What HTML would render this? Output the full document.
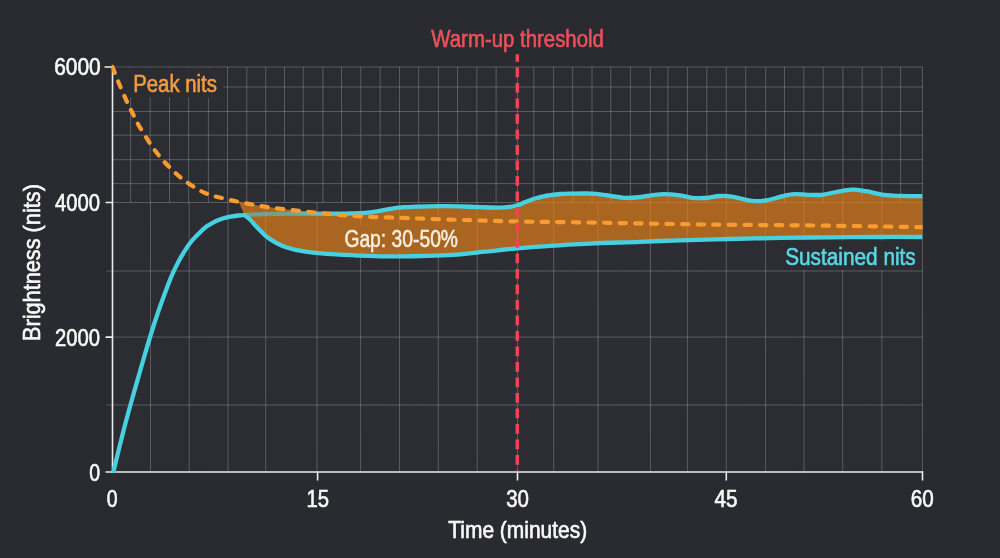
<!DOCTYPE html>
<html lang="en">
<head>
<meta charset="utf-8">
<title>Brightness over time</title>
<style>
html,body{margin:0;padding:0;background:#2a2b30;}
body{width:1000px;height:558px;overflow:hidden;}
svg{display:block;}
text{font-family:"Liberation Sans",sans-serif;}
</style>
</head>
<body>
<svg width="1000" height="558" viewBox="0 0 1000 558">
<defs>
<radialGradient id="bg" cx="50%" cy="50%" r="75%">
<stop offset="0" stop-color="#2b2c32"/>
<stop offset="1" stop-color="#292a2f"/>
</radialGradient>
<linearGradient id="upg" gradientUnits="userSpaceOnUse" x1="285" y1="0" x2="330" y2="0">
<stop offset="0" stop-color="#46d0e0" stop-opacity="0.55"/>
<stop offset="1" stop-color="#46d0e0" stop-opacity="1"/>
</linearGradient>
<clipPath id="gclip"><path clip-rule="evenodd" d="M0,0H1000V558H0Z M113.4,67.8h110v29.6h-110Z M779,240.5h142.5v29.6h-142.5Z M341,225h121v27h-121Z"/></clipPath>
<clipPath id="pclip"><rect x="111.6" y="40" width="811" height="432.7"/></clipPath>
</defs>
<rect x="0" y="0" width="1000" height="558" fill="url(#bg)"/>
<rect x="112.5" y="67" width="810" height="405" fill="#ffffff" fill-opacity="0.012"/>
<g stroke="rgba(255,255,255,0.22)" stroke-width="1" fill="none" clip-path="url(#gclip)">
<line x1="130.6" y1="67" x2="130.6" y2="202.5"/>
<line x1="150.2" y1="67" x2="150.2" y2="202.5"/>
<line x1="169.5" y1="67" x2="169.5" y2="202.5"/>
<line x1="188.6" y1="67" x2="188.6" y2="202.5"/>
<line x1="208.4" y1="67" x2="208.4" y2="202.5"/>
<line x1="227.5" y1="67" x2="227.5" y2="202.5"/>
<line x1="246.8" y1="67" x2="246.8" y2="202.5"/>
<line x1="265.7" y1="67" x2="265.7" y2="202.5"/>
<line x1="284.5" y1="67" x2="284.5" y2="202.5"/>
<line x1="303.3" y1="67" x2="303.3" y2="202.5"/>
<line x1="322.9" y1="67" x2="322.9" y2="202.5"/>
<line x1="341.5" y1="67" x2="341.5" y2="202.5"/>
<line x1="360.8" y1="67" x2="360.8" y2="202.5"/>
<line x1="380.2" y1="67" x2="380.2" y2="202.5"/>
<line x1="399.5" y1="67" x2="399.5" y2="202.5"/>
<line x1="418.6" y1="67" x2="418.6" y2="202.5"/>
<line x1="438.4" y1="67" x2="438.4" y2="202.5"/>
<line x1="457.5" y1="67" x2="457.5" y2="202.5"/>
<line x1="476.8" y1="67" x2="476.8" y2="202.5"/>
<line x1="496.1" y1="67" x2="496.1" y2="202.5"/>
<line x1="517.5" y1="67" x2="517.5" y2="202.5"/>
<line x1="533.8" y1="67" x2="533.8" y2="202.5"/>
<line x1="553.6" y1="67" x2="553.6" y2="202.5"/>
<line x1="572.7" y1="67" x2="572.7" y2="202.5"/>
<line x1="592.0" y1="67" x2="592.0" y2="202.5"/>
<line x1="610.8" y1="67" x2="610.8" y2="202.5"/>
<line x1="630.4" y1="67" x2="630.4" y2="202.5"/>
<line x1="650.3" y1="67" x2="650.3" y2="202.5"/>
<line x1="667.9" y1="67" x2="667.9" y2="202.5"/>
<line x1="687.4" y1="67" x2="687.4" y2="202.5"/>
<line x1="706.8" y1="67" x2="706.8" y2="202.5"/>
<line x1="726.3" y1="67" x2="726.3" y2="202.5"/>
<line x1="745.7" y1="67" x2="745.7" y2="202.5"/>
<line x1="765.7" y1="67" x2="765.7" y2="202.5"/>
<line x1="784.5" y1="67" x2="784.5" y2="202.5"/>
<line x1="803.8" y1="67" x2="803.8" y2="202.5"/>
<line x1="823.2" y1="67" x2="823.2" y2="202.5"/>
<line x1="842.9" y1="67" x2="842.9" y2="202.5"/>
<line x1="862.2" y1="67" x2="862.2" y2="202.5"/>
<line x1="881.8" y1="67" x2="881.8" y2="202.5"/>
<line x1="900.6" y1="67" x2="900.6" y2="202.5"/>
<line x1="922.5" y1="67" x2="922.5" y2="202.5"/>
<line x1="150.5" y1="202.5" x2="150.5" y2="472"/>
<line x1="189.2" y1="202.5" x2="189.2" y2="472"/>
<line x1="228.0" y1="202.5" x2="228.0" y2="472"/>
<line x1="265.7" y1="202.5" x2="265.7" y2="472"/>
<line x1="317.0" y1="202.5" x2="317.0" y2="472"/>
<line x1="360.6" y1="202.5" x2="360.6" y2="472"/>
<line x1="399.5" y1="202.5" x2="399.5" y2="472"/>
<line x1="438.3" y1="202.5" x2="438.3" y2="472"/>
<line x1="477.2" y1="202.5" x2="477.2" y2="472"/>
<line x1="517.5" y1="202.5" x2="517.5" y2="472"/>
<line x1="553.7" y1="202.5" x2="553.7" y2="472"/>
<line x1="598.0" y1="202.5" x2="598.0" y2="472"/>
<line x1="650.4" y1="202.5" x2="650.4" y2="472"/>
<line x1="687.4" y1="202.5" x2="687.4" y2="472"/>
<line x1="726.3" y1="202.5" x2="726.3" y2="472"/>
<line x1="765.6" y1="202.5" x2="765.6" y2="472"/>
<line x1="804.0" y1="202.5" x2="804.0" y2="472"/>
<line x1="842.7" y1="202.5" x2="842.7" y2="472"/>
<line x1="881.8" y1="202.5" x2="881.8" y2="472"/>
<line x1="922.5" y1="202.5" x2="922.5" y2="472"/>
<line x1="112.5" y1="67" x2="922.5" y2="67"/>
<line x1="112.5" y1="87" x2="922.5" y2="87"/>
<line x1="112.5" y1="111.5" x2="922.5" y2="111.5"/>
<line x1="112.5" y1="135.2" x2="922.5" y2="135.2"/>
<line x1="112.5" y1="159.7" x2="922.5" y2="159.7"/>
<line x1="112.5" y1="183.6" x2="922.5" y2="183.6"/>
<line x1="112.5" y1="202.5" x2="922.5" y2="202.5"/>
<line x1="106.5" y1="271" x2="922.5" y2="271"/>
<line x1="112.5" y1="337.1" x2="922.5" y2="337.1"/>
<line x1="106.5" y1="405" x2="922.5" y2="405"/>
</g>
<!-- axes -->
<g stroke="#ececec" stroke-width="1.6" fill="none">
<path d="M112.5,66.2 V472 H922.5"/>
<path d="M104.5,67 H112.5 M105.5,202.5 H112.5 M105.5,337.1 H112.5 M105.5,472 H112.5"/>
<path d="M317.6,472 V480.4 M517.5,472 V480.4 M726.3,472 V480.4 M922.5,471.2 V480.4"/>
</g>
<g clip-path="url(#pclip)">
<!-- gap fill -->
<path d="M238.7,201.8 C243.0,202.6 254.8,205.1 264.5,206.6 C274.2,208.1 287.6,209.6 296.8,210.6 C306.1,211.6 313.5,212.3 320.0,212.8 C326.5,213.3 333.3,213.5 336.0,213.6 C337.3,213.6 340.0,213.8 344.0,213.7 C348.0,213.6 356.0,213.4 360.0,213.2 C364.0,213.0 364.7,213.0 368.0,212.6 C371.3,212.2 376.0,211.5 380.0,210.8 C384.0,210.1 388.0,209.2 392.0,208.6 C396.0,208.0 400.0,207.5 404.0,207.2 C408.0,206.9 410.0,206.9 416.0,206.7 C422.0,206.5 432.7,206.2 440.0,206.2 C447.3,206.1 453.3,206.2 460.0,206.4 C466.7,206.6 473.3,206.9 480.0,207.1 C486.7,207.3 495.0,207.6 500.0,207.6 C505.0,207.6 507.0,207.3 510.0,206.9 C513.0,206.5 515.7,205.7 518.0,205.0 C520.3,204.3 522.0,203.4 524.0,202.6 C526.0,201.8 528.0,201.0 530.0,200.3 C532.0,199.6 534.0,198.9 536.0,198.3 C538.0,197.7 540.0,197.2 542.0,196.7 C544.0,196.2 545.0,195.9 548.0,195.5 C551.0,195.1 556.0,194.3 560.0,194.0 C564.0,193.7 568.0,193.7 572.0,193.6 C576.0,193.5 580.0,193.5 584.0,193.5 C588.0,193.5 591.7,193.4 596.0,193.8 C600.3,194.2 605.3,195.1 610.0,195.8 C614.7,196.5 619.7,197.5 624.0,197.8 C628.3,198.1 631.7,197.9 636.0,197.5 C640.3,197.1 645.3,196.2 650.0,195.6 C654.7,195.0 659.0,194.2 664.0,194.2 C669.0,194.2 675.3,194.8 680.0,195.4 C684.7,196.0 688.0,197.4 692.0,197.8 C696.0,198.2 699.3,198.3 704.0,198.0 C708.7,197.7 715.3,196.2 720.0,196.0 C724.7,195.8 727.7,196.0 732.0,196.6 C736.3,197.2 742.0,199.0 746.0,199.8 C750.0,200.6 752.7,201.1 756.0,201.2 C759.3,201.3 762.7,200.9 766.0,200.4 C769.3,199.9 773.0,198.8 776.0,198.0 C779.0,197.2 781.0,196.4 784.0,195.8 C787.0,195.2 790.0,194.4 794.0,194.2 C798.0,194.0 803.3,194.7 808.0,194.8 C812.7,194.9 817.3,195.3 822.0,194.8 C826.7,194.3 831.0,192.9 836.0,192.0 C841.0,191.1 847.0,189.7 852.0,189.6 C857.0,189.5 860.7,190.3 866.0,191.2 C871.3,192.1 878.3,194.1 884.0,194.9 C889.7,195.7 893.6,195.7 900.0,195.9 C906.4,196.1 918.8,196.1 922.5,196.2 L922.5,237 C915.4,237.0 895.4,236.9 880.0,237.0 C864.6,237.1 846.5,237.2 830.0,237.3 C813.5,237.5 797.5,237.6 780.8,237.9 C764.1,238.2 746.7,238.6 730.0,239.0 C713.3,239.4 695.4,239.8 680.4,240.3 C665.4,240.8 655.1,241.2 640.0,241.8 C624.9,242.4 605.0,242.9 590.0,243.6 C575.0,244.3 562.2,245.0 550.0,245.8 C537.8,246.6 527.8,247.3 517.0,248.3 C506.2,249.3 495.7,250.6 485.0,251.7 C474.3,252.8 463.8,254.1 453.0,254.8 C442.2,255.5 430.5,255.7 420.0,256.0 C409.5,256.3 400.0,256.5 390.0,256.4 C380.0,256.3 367.5,255.8 360.0,255.6 C352.5,255.3 352.2,255.3 345.2,254.9 C338.1,254.5 325.8,254.0 317.7,253.2 C309.6,252.4 302.1,251.2 296.8,250.2 C291.5,249.2 289.2,248.3 286.0,247.2 C282.8,246.1 280.0,244.8 277.4,243.5 C274.8,242.2 272.6,240.8 270.5,239.4 C268.4,238.0 266.8,236.9 264.5,234.8 C262.2,232.7 258.9,229.3 256.5,226.8 C254.1,224.3 252.0,221.6 250.0,219.6 C248.0,217.6 245.4,215.8 244.5,215.1 Z" fill="#eb8417" fill-opacity="0.66"/>
<!-- sustained nits -->
<path d="M244.5,215.1 C247.8,214.9 255.8,214.3 264.5,214.1 C273.2,213.8 287.6,213.7 296.8,213.6 C306.1,213.5 312.1,213.6 320.0,213.6 C327.9,213.6 337.3,213.8 344.0,213.7 C350.7,213.6 356.0,213.4 360.0,213.2 C364.0,213.0 364.7,213.0 368.0,212.6 C371.3,212.2 376.0,211.5 380.0,210.8 C384.0,210.1 388.0,209.2 392.0,208.6 C396.0,208.0 400.0,207.5 404.0,207.2 C408.0,206.9 410.0,206.9 416.0,206.7 C422.0,206.5 432.7,206.2 440.0,206.2 C447.3,206.1 453.3,206.2 460.0,206.4 C466.7,206.6 473.3,206.9 480.0,207.1 C486.7,207.3 495.0,207.6 500.0,207.6 C505.0,207.6 507.0,207.3 510.0,206.9 C513.0,206.5 515.7,205.7 518.0,205.0 C520.3,204.3 522.0,203.4 524.0,202.6 C526.0,201.8 528.0,201.0 530.0,200.3 C532.0,199.6 534.0,198.9 536.0,198.3 C538.0,197.7 540.0,197.2 542.0,196.7 C544.0,196.2 545.0,195.9 548.0,195.5 C551.0,195.1 556.0,194.3 560.0,194.0 C564.0,193.7 568.0,193.7 572.0,193.6 C576.0,193.5 580.0,193.5 584.0,193.5 C588.0,193.5 591.7,193.4 596.0,193.8 C600.3,194.2 605.3,195.1 610.0,195.8 C614.7,196.5 619.7,197.5 624.0,197.8 C628.3,198.1 631.7,197.9 636.0,197.5 C640.3,197.1 645.3,196.2 650.0,195.6 C654.7,195.0 659.0,194.2 664.0,194.2 C669.0,194.2 675.3,194.8 680.0,195.4 C684.7,196.0 688.0,197.4 692.0,197.8 C696.0,198.2 699.3,198.3 704.0,198.0 C708.7,197.7 715.3,196.2 720.0,196.0 C724.7,195.8 727.7,196.0 732.0,196.6 C736.3,197.2 742.0,199.0 746.0,199.8 C750.0,200.6 752.7,201.1 756.0,201.2 C759.3,201.3 762.7,200.9 766.0,200.4 C769.3,199.9 773.0,198.8 776.0,198.0 C779.0,197.2 781.0,196.4 784.0,195.8 C787.0,195.2 790.0,194.4 794.0,194.2 C798.0,194.0 803.3,194.7 808.0,194.8 C812.7,194.9 817.3,195.3 822.0,194.8 C826.7,194.3 831.0,192.9 836.0,192.0 C841.0,191.1 847.0,189.7 852.0,189.6 C857.0,189.5 860.7,190.3 866.0,191.2 C871.3,192.1 878.3,194.1 884.0,194.9 C889.7,195.7 893.6,195.7 900.0,195.9 C906.4,196.1 918.8,196.1 922.5,196.2" fill="none" stroke="url(#upg)" stroke-width="4.3" stroke-linecap="butt" stroke-linejoin="round" id="upperline"/>
<path d="M244.5,215.1 C245.4,215.8 248.0,217.6 250.0,219.6 C252.0,221.6 254.1,224.3 256.5,226.8 C258.9,229.3 262.2,232.7 264.5,234.8 C266.8,236.9 268.4,238.0 270.5,239.4 C272.6,240.8 274.8,242.2 277.4,243.5 C280.0,244.8 282.8,246.1 286.0,247.2 C289.2,248.3 291.5,249.2 296.8,250.2 C302.1,251.2 309.6,252.4 317.7,253.2 C325.8,254.0 338.1,254.5 345.2,254.9 C352.2,255.3 352.5,255.3 360.0,255.6 C367.5,255.8 380.0,256.3 390.0,256.4 C400.0,256.5 409.5,256.3 420.0,256.0 C430.5,255.7 442.2,255.5 453.0,254.8 C463.8,254.1 474.3,252.8 485.0,251.7 C495.7,250.6 506.2,249.3 517.0,248.3 C527.8,247.3 537.8,246.6 550.0,245.8 C562.2,245.0 575.0,244.3 590.0,243.6 C605.0,242.9 624.9,242.4 640.0,241.8 C655.1,241.2 665.4,240.8 680.4,240.3 C695.4,239.8 713.3,239.4 730.0,239.0 C746.7,238.6 764.1,238.2 780.8,237.9 C797.5,237.6 813.5,237.5 830.0,237.3 C846.5,237.2 864.6,237.1 880.0,237.0 C895.4,236.9 915.4,237.0 922.5,237.0" fill="none" stroke="#46d0e0" stroke-width="4.3" stroke-linecap="butt" stroke-linejoin="round"/>
<path d="M113.4,471.8 C115.1,464.8 120.4,442.9 123.7,430.0 C127.0,417.1 130.2,405.9 133.5,394.1 C136.8,382.4 140.4,369.7 143.4,359.5 C146.4,349.3 148.7,341.4 151.3,333.0 C153.9,324.6 156.6,316.5 159.1,309.3 C161.6,302.1 164.1,295.3 166.1,290.0 C168.1,284.7 169.4,281.2 171.0,277.4 C172.6,273.5 173.9,270.7 175.8,266.9 C177.7,263.1 179.9,258.8 182.3,254.8 C184.7,250.8 187.6,246.2 190.3,242.7 C193.0,239.2 195.7,236.6 198.4,233.9 C201.1,231.2 203.8,228.6 206.5,226.6 C209.2,224.6 211.8,223.2 214.5,221.8 C217.2,220.5 219.9,219.4 222.6,218.5 C225.3,217.6 227.9,217.1 230.6,216.6 C233.3,216.1 236.4,215.8 238.7,215.5 C241.0,215.2 243.5,215.2 244.5,215.1" fill="none" stroke="#46d0e0" stroke-width="4.3" stroke-linecap="round" stroke-linejoin="round"/>
<!-- peak nits -->
<path d="M112.5,67.0 C113.4,69.3 115.9,75.9 118.0,81.0 C120.1,86.1 122.8,92.5 125.1,97.7 C127.4,102.9 129.5,107.0 132.0,112.0 C134.5,117.0 136.5,121.6 140.2,127.8 C143.9,134.0 149.4,142.8 154.0,149.1 C158.6,155.4 163.0,160.5 167.8,165.5 C172.6,170.5 177.4,175.1 182.8,179.3 C188.2,183.5 195.1,187.8 200.0,190.5 C204.9,193.2 208.0,194.2 212.0,195.5 C216.0,196.8 219.8,197.4 224.2,198.5 C228.6,199.6 232.0,200.5 238.7,201.8 C245.4,203.2 254.8,205.1 264.5,206.6 C274.2,208.1 286.1,209.4 296.8,210.6 C307.6,211.8 318.5,212.9 329.0,213.9 C339.5,214.9 345.7,215.6 360.0,216.3 C374.3,217.1 396.7,217.8 415.0,218.4 C433.3,219.1 453.0,219.7 470.0,220.2 C487.0,220.7 497.0,221.1 517.0,221.5 C537.0,221.9 558.7,222.0 590.0,222.5 C621.3,223.0 665.0,224.0 705.0,224.5 C745.0,225.0 793.8,225.2 830.0,225.7 C866.2,226.1 907.1,226.9 922.5,227.2" fill="none" stroke="#f89c30" stroke-width="4.2" stroke-linecap="round" stroke-dasharray="6.3 9.3"/>
</g>
<!-- threshold -->
<line x1="517.3" y1="54.3" x2="517.3" y2="471.2" stroke="#ee4550" stroke-width="3.5" stroke-dasharray="9.8 5.7" stroke-dashoffset="2.3"/>
<!-- labels -->
<g fill="#fafafa" stroke="#fafafa" stroke-width="0.62" font-size="23.5">
<text id="y6000" transform="translate(100.6,74.7) scale(0.888,1)" text-anchor="end">6000</text>
<text id="y4000" transform="translate(100.1,211.3) scale(0.862,1)" text-anchor="end">4000</text>
<text id="y2000" transform="translate(100.1,345.8) scale(0.862,1)" text-anchor="end">2000</text>
<text id="y0" transform="translate(100.0,480.7) scale(0.83,1)" text-anchor="end">0</text>
<text id="x0" transform="translate(112.1,507) scale(0.83,1)" text-anchor="middle">0</text>
<text id="x15" transform="translate(317.7,507) scale(0.862,1)" text-anchor="middle">15</text>
<text id="x30" transform="translate(517.6,507) scale(0.87,1)" text-anchor="middle">30</text>
<text id="x45" transform="translate(726,507) scale(0.88,1)" text-anchor="middle">45</text>
<text id="x60" transform="translate(922.2,507) scale(0.88,1)" text-anchor="middle">60</text>
<text id="xt" transform="translate(517.7,538.0) scale(0.892,1)" text-anchor="middle" font-size="23.5">Time (minutes)</text>
<text id="yt" transform="translate(39.7,262.6) rotate(-90) scale(0.925,1)" text-anchor="middle" font-size="23.5">Brightness (nits)</text>
</g>
<text id="warm" transform="translate(517.6,46.7) scale(0.868,1)" text-anchor="middle" font-size="23.5" fill="#ee4f5a" stroke="#ee4f5a" stroke-width="0.62">Warm-up threshold</text>
<text id="peakt" transform="translate(133.2,91.6) scale(0.866,1)" font-size="23.5" fill="#f39c40" stroke="#f39c40" stroke-width="0.62">Peak nits</text>
<text id="gap" transform="translate(344.4,246.9) scale(0.821,1)" font-size="23.5" fill="#f7efe4" stroke="#f7efe4" stroke-width="0.55">Gap: 30-50%</text>
<text id="sus" transform="translate(785.2,264.5) scale(0.885,1)" font-size="23.5" fill="#56d8e5" stroke="#56d8e5" stroke-width="0.62">Sustained nits</text>
</svg>
</body>
</html>
